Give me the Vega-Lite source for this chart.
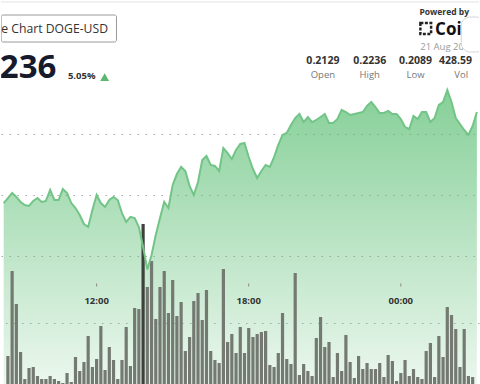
{
 "$schema": "https://vega.github.io/schema/vega-lite/v6.json",
 "width": 480,
 "height": 384,
 "autosize": {"type": "fit", "contains": "padding"},
 "padding": 0,
 "background": "white",
 "config": {"view": {"stroke": null}, "font": "Open Sans"},
 "data": {"values": [
  {"t":"2024-08-20T08:20:00","price":0.21434,"vol":null},
  {"t":"2024-08-20T08:30:00","price":0.21475,"vol":28},
  {"t":"2024-08-20T08:40:00","price":0.21516,"vol":113},
  {"t":"2024-08-20T08:50:00","price":0.21484,"vol":80},
  {"t":"2024-08-20T09:00:00","price":0.21443,"vol":32},
  {"t":"2024-08-20T09:10:00","price":0.21418,"vol":5},
  {"t":"2024-08-20T09:20:00","price":0.21410,"vol":16},
  {"t":"2024-08-20T09:30:00","price":0.21451,"vol":17},
  {"t":"2024-08-20T09:40:00","price":0.21475,"vol":8},
  {"t":"2024-08-20T09:50:00","price":0.21443,"vol":5},
  {"t":"2024-08-20T10:00:00","price":0.21451,"vol":5},
  {"t":"2024-08-20T10:10:00","price":0.21541,"vol":8},
  {"t":"2024-08-20T10:20:00","price":0.21459,"vol":5},
  {"t":"2024-08-20T10:30:00","price":0.21459,"vol":3},
  {"t":"2024-08-20T10:40:00","price":0.21549,"vol":1},
  {"t":"2024-08-20T10:50:00","price":0.21516,"vol":11},
  {"t":"2024-08-20T11:00:00","price":0.21434,"vol":2},
  {"t":"2024-08-20T11:10:00","price":0.21393,"vol":27},
  {"t":"2024-08-20T11:20:00","price":0.21336,"vol":13},
  {"t":"2024-08-20T11:30:00","price":0.21262,"vol":22},
  {"t":"2024-08-20T11:40:00","price":0.21238,"vol":48},
  {"t":"2024-08-20T11:50:00","price":0.21377,"vol":17},
  {"t":"2024-08-20T12:00:00","price":0.21500,"vol":25},
  {"t":"2024-08-20T12:10:00","price":0.21434,"vol":58},
  {"t":"2024-08-20T12:20:00","price":0.21402,"vol":14},
  {"t":"2024-08-20T12:30:00","price":0.21459,"vol":37},
  {"t":"2024-08-20T12:40:00","price":0.21484,"vol":24},
  {"t":"2024-08-20T12:50:00","price":0.21459,"vol":5},
  {"t":"2024-08-20T13:00:00","price":0.21352,"vol":24},
  {"t":"2024-08-20T13:10:00","price":0.21279,"vol":57},
  {"t":"2024-08-20T13:20:00","price":0.21320,"vol":18},
  {"t":"2024-08-20T13:30:00","price":0.21311,"vol":76},
  {"t":"2024-08-20T13:40:00","price":0.21238,"vol":75},
  {"t":"2024-08-20T13:50:00","price":0.21074,"vol":160},
  {"t":"2024-08-20T14:00:00","price":0.20890,"vol":97},
  {"t":"2024-08-20T14:10:00","price":0.21008,"vol":123},
  {"t":"2024-08-20T14:20:00","price":0.21172,"vol":65},
  {"t":"2024-08-20T14:30:00","price":0.21311,"vol":97},
  {"t":"2024-08-20T14:40:00","price":0.21443,"vol":113},
  {"t":"2024-08-20T14:50:00","price":0.21393,"vol":71},
  {"t":"2024-08-20T15:00:00","price":0.21582,"vol":104},
  {"t":"2024-08-20T15:10:00","price":0.21672,"vol":68},
  {"t":"2024-08-20T15:20:00","price":0.21730,"vol":82},
  {"t":"2024-08-20T15:30:00","price":0.21697,"vol":33},
  {"t":"2024-08-20T15:40:00","price":0.21574,"vol":47},
  {"t":"2024-08-20T15:50:00","price":0.21500,"vol":83},
  {"t":"2024-08-20T16:00:00","price":0.21607,"vol":91},
  {"t":"2024-08-20T16:10:00","price":0.21787,"vol":64},
  {"t":"2024-08-20T16:20:00","price":0.21820,"vol":94},
  {"t":"2024-08-20T16:30:00","price":0.21746,"vol":33},
  {"t":"2024-08-20T16:40:00","price":0.21738,"vol":24},
  {"t":"2024-08-20T16:50:00","price":0.21697,"vol":21},
  {"t":"2024-08-20T17:00:00","price":0.21885,"vol":115},
  {"t":"2024-08-20T17:10:00","price":0.21844,"vol":42},
  {"t":"2024-08-20T17:20:00","price":0.21795,"vol":50},
  {"t":"2024-08-20T17:30:00","price":0.21869,"vol":31},
  {"t":"2024-08-20T17:40:00","price":0.21918,"vol":57},
  {"t":"2024-08-20T17:50:00","price":0.21926,"vol":31},
  {"t":"2024-08-20T18:00:00","price":0.21811,"vol":56},
  {"t":"2024-08-20T18:10:00","price":0.21713,"vol":47},
  {"t":"2024-08-20T18:20:00","price":0.21639,"vol":50},
  {"t":"2024-08-20T18:30:00","price":0.21697,"vol":52},
  {"t":"2024-08-20T18:40:00","price":0.21746,"vol":53},
  {"t":"2024-08-20T18:50:00","price":0.21730,"vol":19},
  {"t":"2024-08-20T19:00:00","price":0.21811,"vol":17},
  {"t":"2024-08-20T19:10:00","price":0.21910,"vol":31},
  {"t":"2024-08-20T19:20:00","price":0.21992,"vol":71},
  {"t":"2024-08-20T19:30:00","price":0.22008,"vol":25},
  {"t":"2024-08-20T19:40:00","price":0.22074,"vol":20},
  {"t":"2024-08-20T19:50:00","price":0.22131,"vol":111},
  {"t":"2024-08-20T20:00:00","price":0.22164,"vol":9},
  {"t":"2024-08-20T20:10:00","price":0.22098,"vol":20},
  {"t":"2024-08-20T20:20:00","price":0.22139,"vol":13},
  {"t":"2024-08-20T20:30:00","price":0.22098,"vol":8},
  {"t":"2024-08-20T20:40:00","price":0.22115,"vol":46},
  {"t":"2024-08-20T20:50:00","price":0.22139,"vol":67},
  {"t":"2024-08-20T21:00:00","price":0.22164,"vol":37},
  {"t":"2024-08-20T21:10:00","price":0.22090,"vol":42},
  {"t":"2024-08-20T21:20:00","price":0.22090,"vol":7},
  {"t":"2024-08-20T21:30:00","price":0.22123,"vol":31},
  {"t":"2024-08-20T21:40:00","price":0.22197,"vol":13},
  {"t":"2024-08-20T21:50:00","price":0.22180,"vol":49},
  {"t":"2024-08-20T22:00:00","price":0.22156,"vol":22},
  {"t":"2024-08-20T22:10:00","price":0.22164,"vol":6},
  {"t":"2024-08-20T22:20:00","price":0.22172,"vol":28},
  {"t":"2024-08-20T22:30:00","price":0.22180,"vol":15},
  {"t":"2024-08-20T22:40:00","price":0.22230,"vol":21},
  {"t":"2024-08-20T22:50:00","price":0.22262,"vol":15},
  {"t":"2024-08-20T23:00:00","price":0.22221,"vol":15},
  {"t":"2024-08-20T23:10:00","price":0.22172,"vol":21},
  {"t":"2024-08-20T23:20:00","price":0.22172,"vol":7},
  {"t":"2024-08-20T23:30:00","price":0.22189,"vol":29},
  {"t":"2024-08-20T23:40:00","price":0.22164,"vol":23},
  {"t":"2024-08-20T23:50:00","price":0.22164,"vol":3},
  {"t":"2024-08-21T00:00:00","price":0.22123,"vol":11},
  {"t":"2024-08-21T00:10:00","price":0.22057,"vol":24},
  {"t":"2024-08-21T00:20:00","price":0.22041,"vol":8},
  {"t":"2024-08-21T00:30:00","price":0.22148,"vol":15},
  {"t":"2024-08-21T00:40:00","price":0.22123,"vol":7},
  {"t":"2024-08-21T00:50:00","price":0.22180,"vol":5},
  {"t":"2024-08-21T01:00:00","price":0.22180,"vol":33},
  {"t":"2024-08-21T01:10:00","price":0.22098,"vol":41},
  {"t":"2024-08-21T01:20:00","price":0.22131,"vol":7},
  {"t":"2024-08-21T01:30:00","price":0.22238,"vol":48},
  {"t":"2024-08-21T01:40:00","price":0.22262,"vol":27},
  {"t":"2024-08-21T01:50:00","price":0.22360,"vol":77},
  {"t":"2024-08-21T02:00:00","price":0.22262,"vol":69},
  {"t":"2024-08-21T02:10:00","price":0.22131,"vol":55},
  {"t":"2024-08-21T02:20:00","price":0.22082,"vol":17},
  {"t":"2024-08-21T02:30:00","price":0.22033,"vol":55},
  {"t":"2024-08-21T02:40:00","price":0.21992,"vol":8},
  {"t":"2024-08-21T02:50:00","price":0.22066,"vol":7},
  {"t":"2024-08-21T03:00:00","price":0.22180,"vol":null}
 ]},
 "layer": [
  {
   "mark": {"type": "area", "clip": true, "interpolate": "linear", "opacity": 1,
    "color": {"gradient": "linear", "x1": 0, "y1": 0, "x2": 0, "y2": 1,
     "stops": [{"offset": 0, "color": "rgba(92,191,116,0.74)"}, {"offset": 1, "color": "rgba(92,191,116,0.12)"}]}},
   "encoding": {
    "x": {"field": "t", "type": "temporal",
     "scale": {"domain": [{"year":2024,"month":8,"date":20,"hours":8,"minutes":25,"seconds":30}, {"year":2024,"month":8,"date":21,"hours":2,"minutes":53,"seconds":12}], "nice": false},
     "axis": null},
    "y": {"field": "price", "type": "quantitative",
     "scale": {"domain": [0.199508, 0.230984], "nice": false, "zero": false},
     "axis": {"orient": "left", "grid": true, "gridDash": [1.5, 6.5], "gridColor": "#aaaaaa", "gridWidth": 1.2,
      "labels": false, "ticks": false, "domain": false, "title": null, "minExtent": 0, "maxExtent": 0,
      "values": [0.21, 0.215, 0.22]}},
    "y2": {"datum": 0.199508}
   }
  },
  {
   "mark": {"type": "bar", "width": 3.2, "clip": true},
   "encoding": {
    "x": {"field": "t", "type": "temporal", "axis": null},
    "y": {"field": "vol", "type": "quantitative", "scale": {"domain": [0, 384], "nice": false},
     "axis": {"orient": "right", "grid": true, "gridDash": [1.5, 6.5], "gridColor": "#aaaaaa", "gridWidth": 1.2,
      "labels": false, "ticks": false, "domain": false, "title": null, "minExtent": 0, "maxExtent": 0, "values": [61]}},
    "color": {"condition": {"test": "datum.vol > 150", "value": "#3e403d"}, "value": "#747a72"}
   }
  },
  {
   "layer": [
    {
     "mark": {"type": "line", "clip": true, "color": "#72c487", "strokeWidth": 2},
     "encoding": {
      "x": {"field": "t", "type": "temporal", "axis": null},
      "y": {"field": "price", "type": "quantitative", "scale": {"domain": [0.199508, 0.230984], "nice": false, "zero": false}, "axis": null}
     }
    },
    {
     "data": {"values": [{"t":"2024-08-20T12:00:00"},{"t":"2024-08-20T18:00:00"},{"t":"2024-08-21T00:00:00"}]},
     "layer": [
      {"mark": {"type": "tick", "orient": "vertical", "size": 3, "thickness": 1, "color": "#888888", "opacity": 1},
       "encoding": {
        "x": {"field": "t", "type": "temporal", "axis": null},
        "y": {"datum": 0.207623, "type": "quantitative", "axis": null}}},
      {"mark": {"type": "text", "align": "center", "baseline": "middle", "fontSize": 9.5, "fontWeight": "bold", "color": "#333333"},
       "encoding": {
        "x": {"field": "t", "type": "temporal", "axis": null},
        "y": {"datum": 0.206311, "type": "quantitative", "axis": null},
        "text": {"field": "t", "type": "temporal", "format": "%H:%M"}}}
     ]
    },
    {
     "data": {"values": [{}]},
     "layer": [
      {"mark": {"type": "rule", "color": "#e3e3e3", "strokeWidth": 1},
       "encoding": {"y": {"datum": 0.23082, "type": "quantitative", "axis": null}}},
      {"mark": {"type": "rect", "fill": "white", "stroke": "#9a9a9a", "strokeWidth": 1, "cornerRadius": 2, "clip": true},
       "encoding": {
        "x": {"datum": {"year":2024,"month":8,"date":20,"hours":8,"minutes":14}, "type": "temporal", "axis": null},
        "x2": {"datum": {"year":2024,"month":8,"date":20,"hours":12,"minutes":47}},
        "y": {"datum": 0.229754, "type": "quantitative", "axis": null},
        "y2": {"datum": 0.227541}}},
      {"mark": {"type": "text", "text": "Price Chart DOGE-USD", "align": "right", "baseline": "alphabetic", "fontSize": 12.2, "color": "#333333", "clip": true},
       "encoding": {
        "x": {"datum": {"year":2024,"month":8,"date":20,"hours":12,"minutes":27}, "type": "temporal", "axis": null},
        "y": {"datum": 0.228279, "type": "quantitative", "axis": null}}},
      {"mark": {"type": "text", "text": "0.2236", "align": "right", "baseline": "alphabetic", "fontSize": 33, "fontWeight": "bold", "color": "#161a2b", "clip": true},
       "encoding": {
        "x": {"datum": {"year":2024,"month":8,"date":20,"hours":10,"minutes":25}, "type": "temporal", "axis": null},
        "y": {"datum": 0.22459, "type": "quantitative", "axis": null}}},
      {"mark": {"type": "text", "text": "5.05%", "align": "left", "baseline": "alphabetic", "fontSize": 9.5, "fontWeight": "bold", "color": "#333333"},
       "encoding": {
        "x": {"datum": {"year":2024,"month":8,"date":20,"hours":10,"minutes":52}, "type": "temporal", "axis": null},
        "y": {"datum": 0.224508, "type": "quantitative", "axis": null}}},
      {"mark": {"type": "point", "shape": "triangle-up", "filled": true, "size": 80, "color": "#5cb870", "opacity": 1},
       "encoding": {
        "x": {"datum": {"year":2024,"month":8,"date":20,"hours":12,"minutes":19}, "type": "temporal", "axis": null},
        "y": {"datum": 0.224672, "type": "quantitative", "axis": null}}},
      {"mark": {"type": "text", "text": "Powered by", "align": "left", "baseline": "alphabetic", "fontSize": 8.5, "fontWeight": "bold", "color": "#333333", "clip": true},
       "encoding": {
        "x": {"datum": {"year":2024,"month":8,"date":21,"hours":0,"minutes":44}, "type": "temporal", "axis": null},
        "y": {"datum": 0.229754, "type": "quantitative", "axis": null}}},
      {"mark": {"type": "rect", "fill": "transparent", "stroke": "#222222", "strokeWidth": 2.5, "strokeDash": [3, 1.5]},
       "encoding": {
        "x": {"datum": {"year":2024,"month":8,"date":21,"hours":0,"minutes":46,"seconds":18}, "type": "temporal", "axis": null},
        "x2": {"datum": {"year":2024,"month":8,"date":21,"hours":1,"minutes":11,"seconds":42}},
        "y": {"datum": 0.229098, "type": "quantitative", "axis": null},
        "y2": {"datum": 0.228197}}},
      {"mark": {"type": "text", "text": "CoinDesk", "align": "left", "baseline": "alphabetic", "fontSize": 17, "fontWeight": "bold", "color": "#111111", "clip": true},
       "encoding": {
        "x": {"datum": {"year":2024,"month":8,"date":21,"hours":1,"minutes":21}, "type": "temporal", "axis": null},
        "y": {"datum": 0.228115, "type": "quantitative", "axis": null}}},
      {"mark": {"type": "text", "text": "21 Aug 2024", "align": "left", "baseline": "alphabetic", "fontSize": 9.5, "color": "#9a9a9a", "clip": true},
       "encoding": {
        "x": {"datum": {"year":2024,"month":8,"date":21,"hours":0,"minutes":46}, "type": "temporal", "axis": null},
        "y": {"datum": 0.226885, "type": "quantitative", "axis": null}}},
      {"mark": {"type": "rect", "fill": "white", "stroke": "#d5d5d5", "strokeWidth": 1, "cornerRadius": 9, "clip": true},
       "encoding": {
        "x": {"datum": {"year":2024,"month":8,"date":21,"hours":2,"minutes":23}, "type": "temporal", "axis": null},
        "x2": {"datum": {"year":2024,"month":8,"date":21,"hours":3,"minutes":20}},
        "y": {"datum": 0.22959, "type": "quantitative", "axis": null},
        "y2": {"datum": 0.226721}}},
      {"mark": {"type": "text", "text": "0.2129", "align": "center", "baseline": "alphabetic", "fontSize": 10.5, "fontWeight": "bold", "color": "#333333"},
       "encoding": {
        "x": {"datum": {"year":2024,"month":8,"date":20,"hours":20,"minutes":55,"seconds":30}, "type": "temporal", "axis": null},
        "y": {"datum": 0.225738, "type": "quantitative", "axis": null}}},
      {"mark": {"type": "text", "text": "0.2236", "align": "center", "baseline": "alphabetic", "fontSize": 10.5, "fontWeight": "bold", "color": "#333333"},
       "encoding": {
        "x": {"datum": {"year":2024,"month":8,"date":20,"hours":22,"minutes":46,"seconds":18}, "type": "temporal", "axis": null},
        "y": {"datum": 0.225738, "type": "quantitative", "axis": null}}},
      {"mark": {"type": "text", "text": "0.2089", "align": "center", "baseline": "alphabetic", "fontSize": 10.5, "fontWeight": "bold", "color": "#333333"},
       "encoding": {
        "x": {"datum": {"year":2024,"month":8,"date":21,"hours":0,"minutes":34,"seconds":42}, "type": "temporal", "axis": null},
        "y": {"datum": 0.225738, "type": "quantitative", "axis": null}}},
      {"mark": {"type": "text", "text": "428.59", "align": "center", "baseline": "alphabetic", "fontSize": 10.5, "fontWeight": "bold", "color": "#333333", "clip": true},
       "encoding": {
        "x": {"datum": {"year":2024,"month":8,"date":21,"hours":2,"minutes":9,"seconds":24}, "type": "temporal", "axis": null},
        "y": {"datum": 0.225738, "type": "quantitative", "axis": null}}},
      {"mark": {"type": "text", "text": "Open", "align": "center", "baseline": "alphabetic", "fontSize": 9.5, "color": "#777777"},
       "encoding": {
        "x": {"datum": {"year":2024,"month":8,"date":20,"hours":20,"minutes":55,"seconds":30}, "type": "temporal", "axis": null},
        "y": {"datum": 0.22459, "type": "quantitative", "axis": null}}},
      {"mark": {"type": "text", "text": "High", "align": "center", "baseline": "alphabetic", "fontSize": 9.5, "color": "#777777"},
       "encoding": {
        "x": {"datum": {"year":2024,"month":8,"date":20,"hours":22,"minutes":46,"seconds":18}, "type": "temporal", "axis": null},
        "y": {"datum": 0.22459, "type": "quantitative", "axis": null}}},
      {"mark": {"type": "text", "text": "Low", "align": "center", "baseline": "alphabetic", "fontSize": 9.5, "color": "#777777"},
       "encoding": {
        "x": {"datum": {"year":2024,"month":8,"date":21,"hours":0,"minutes":34,"seconds":42}, "type": "temporal", "axis": null},
        "y": {"datum": 0.22459, "type": "quantitative", "axis": null}}},
      {"mark": {"type": "text", "text": "Vol", "align": "center", "baseline": "alphabetic", "fontSize": 9.5, "color": "#777777", "clip": true},
       "encoding": {
        "x": {"datum": {"year":2024,"month":8,"date":21,"hours":2,"minutes":23}, "type": "temporal", "axis": null},
        "y": {"datum": 0.22459, "type": "quantitative", "axis": null}}}
     ]
    }
   ]
  }
 ],
 "resolve": {"scale": {"y": "independent"}}
}
